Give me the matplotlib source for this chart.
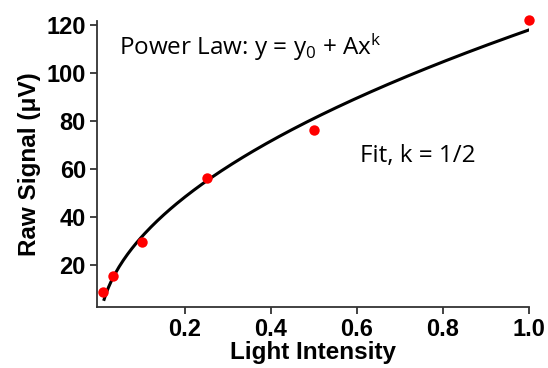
import numpy as np
import matplotlib.pyplot as plt

plt.rcParams['mathtext.default'] = 'regular'

# measured points
intensity = [0.01, 0.03125, 0.1, 0.25, 0.5, 1.0]
signal = [8.8, 15.4, 29.5, 56.1, 76.2, 122.1]

# fit y = y0 + A * x**k, k = 1/2
y0 = -7.9
amp = 125.8
k = 0.5

xticks = [0.2, 0.4, 0.6, 0.8, 1.0]
yticks = [20, 40, 60, 80, 100, 120]


def main():
    fig = plt.figure(figsize=(5.48, 3.68), dpi=100)
    ax = fig.add_axes([0.177, 0.166, 0.788, 0.776])

    xf = np.linspace(0.0116, 1.0, 200)
    ax.plot(xf, y0 + amp * xf ** k, color='black', lw=2.2, zorder=2)
    ax.plot(intensity, signal, 'o', color='#ff0000', ms=7.5, mec='none', zorder=3,
            clip_on=False)

    ax.set_xlim(-0.005, 1.0)
    ax.set_ylim(2.5, 121.5)
    ax.set_xticks(xticks)
    ax.set_yticks(yticks)
    ax.set_xticklabels(['%.1f' % t for t in xticks])

    for s in ['top', 'right']:
        ax.spines[s].set_visible(False)
    for s in ['left', 'bottom']:
        ax.spines[s].set_color('#333333')
        ax.spines[s].set_linewidth(1.3)
    ax.tick_params(direction='out', length=5, width=1.3, color='#333333', pad=3)
    for lab in ax.get_xticklabels() + ax.get_yticklabels():
        lab.set_fontfamily('Liberation Sans')
        lab.set_fontweight('bold')
        lab.set_fontsize(17)

    ax.set_xlabel('Light Intensity', fontfamily='Liberation Sans', fontweight='bold',
                  fontsize=17.5, labelpad=0)
    ax.set_ylabel('Raw Signal (\u03bcV)', fontfamily='Liberation Sans', fontweight='bold',
                  fontsize=17.5, labelpad=4)

    ax.text(0.046, 107.5, 'Power Law: y = y$_0$ + Ax$^k$', fontfamily='Open Sans',
            fontsize=17.5, va='baseline')
    ax.text(0.606, 63, 'Fit, k = 1/2', fontfamily='Open Sans', fontsize=17.5, va='baseline')

    fig.savefig('out.png', dpi=100)


if __name__ == '__main__':
    main()
